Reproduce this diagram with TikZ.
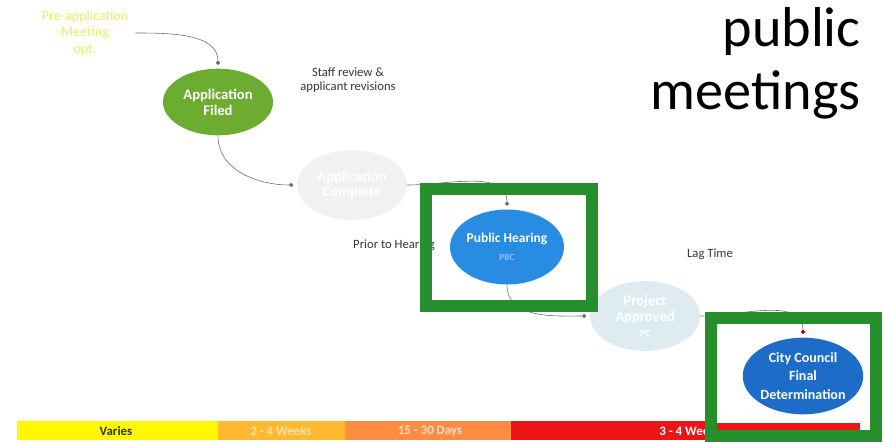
\documentclass[tikz,border=0pt]{standalone}
\usepackage{fontspec}
\setmainfont{Carlito}
\usetikzlibrary{shapes.geometric, arrows.meta, positioning}

\definecolor{appgreen}{RGB}{108,172,48}
\definecolor{framegreen}{RGB}{38,142,42}
\definecolor{hearblue}{RGB}{40,140,226}
\definecolor{councilblue}{RGB}{28,108,200}
\definecolor{paleone}{RGB}{240,242,240}
\definecolor{paletwo}{RGB}{222,236,241}
\definecolor{preyellow}{RGB}{228,240,100}
\definecolor{labelgray}{RGB}{55,55,55}
\definecolor{linegray}{RGB}{110,110,110}
\definecolor{baryellow}{RGB}{255,248,0}
\definecolor{barlight}{RGB}{255,184,48}
\definecolor{barorange}{RGB}{255,140,64}
\definecolor{barred}{RGB}{236,20,20}

\begin{document}
\begin{tikzpicture}[x=0.03cm, y=-0.03cm]
    \tikzstyle{stage} = [ellipse, draw=none, text=white, align=center, inner sep=0pt, minimum width=3.3cm, minimum height=2.1cm, font=\fontsize{12.5}{13.5}\selectfont\bfseries]
    \tikzstyle{note} = [text=labelgray, align=center, inner sep=0pt, font=\fontsize{10.8}{12}\selectfont]
    \tikzstyle{bartext} = [inner sep=0pt, font=\fontsize{11}{12}\selectfont\bfseries]
    \tikzstyle{flow} = [draw, linegray, line width=0.5pt, shorten >=3pt, -{Circle[length=3.5pt]}]
    \tikzstyle{greenframe} = [draw=framegreen, line width=0.36cm]
    \tikzstyle{bigtitle} = [inner sep=0pt, anchor=base east, font=\fontsize{48}{53}\selectfont]

    \useasboundingbox (0,0) rectangle (883,442);

    % timeline bar
    \fill [baryellow] (17,421) rectangle (218,440);
    \fill [barlight] (218,421) rectangle (345,440);
    \fill [barorange] (345,421) rectangle (511,440);
    \fill [barred] (511,421) rectangle (870,440);
    \node [bartext, text=black!80] (varies) at (116,431) {Varies};
    \node [bartext, text=barlight!40!white] (weeksA) at (281,431) {2 - 4 Weeks};
    \node [bartext, text=barorange!25!white] (days) at (430,431) {15 - 30 Days};
    \node [bartext, text=white] (weeksB) at (690,431) {3 - 4 Weeks};
    \fill [white] (717,420) rectangle (872,441);
    \fill [barred] (717,423) rectangle (860,430);

    % title
    \node [bigtitle] (public) at (861,46) {public};
    \node [bigtitle] (meetings) at (861,109) {meetings};

    % side labels
    \node [note, text=preyellow, font=\fontsize{12}{14}\selectfont] (pre) at (85,33) {Pre-application\\Meeting\\opt.};
    \node [note] (staff) at (348,80) {Staff review \&\\applicant revisions};
    \node [note, anchor=west] (prior) at (353,245) {Prior to Hearing};
    \node [note] (lag) at (710,254) {Lag Time};

    % stages
    \node [stage, fill=appgreen, minimum height=2.0cm] (filed) at (218,102) {Application\\Filed};
    \node [stage, fill=paleone] (complete) at (352,185) {Application\\Complete};
    \node [stage, fill=hearblue, minimum height=2.25cm, minimum width=3.4cm, font=\fontsize{11.5}{13}\selectfont\bfseries] (hearing) at (507,247) {Public Hearing\\[2pt]{\fontsize{8}{9}\selectfont\color{hearblue!55!white}PBC}};
    \node [stage, fill=paletwo] (approved) at (645,316) {Project\\Approved\\{\fontsize{8}{9}\selectfont PC}};
    \node [stage, fill=councilblue, minimum height=2.3cm, minimum width=3.4cm, font=\fontsize{12}{15.5}\selectfont\bfseries] (council) at (803,376) {City Council\\Final\\Determination};

    % connectors
    \path [flow] ([xshift=6pt]pre.east) to[out=0, in=90] (filed.north);
    \path [flow] (filed.south) to[out=-90, in=180] (complete.west);
    \path [flow] (complete.east) to[out=0, in=90] (hearing.north);
    \path [flow] (hearing.south) to[out=-90, in=180] (approved.west);
    \path [flow, -{Circle[length=3.5pt, red!80!black]}] (approved.east) to[out=0, in=90] (council.north);

    % highlight frames
    \draw [greenframe] (426,189) rectangle (592,306);
    \draw [greenframe] (711,318) rectangle (876,436);
\end{tikzpicture}
\end{document}
